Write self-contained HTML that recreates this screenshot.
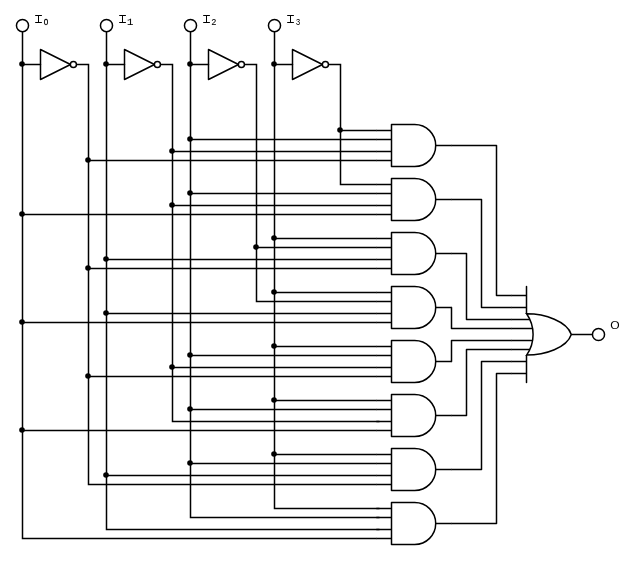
<!DOCTYPE html>
<html lang="en">
<head>
<meta charset="utf-8">
<title>Logic circuit</title>
<style>
html,body{margin:0;padding:0;background:#fff;}
body{width:634px;height:561px;overflow:hidden;}
svg{display:block;}
</style>
</head>
<body>
<svg width="634" height="561" viewBox="0 0 634 561" style="will-change:transform">
<rect width="634" height="561" fill="#fff"/>
<g fill="none" stroke="#000" stroke-width="1.5" stroke-linejoin="round" stroke-linecap="round">
<circle cx="22.5" cy="25.6" r="6.05"/>
<path d="M22.5 31.6V538.5H376.7" stroke-linejoin="miter" stroke-linecap="butt"/>
<path d="M22.5 64.5H40.5"/>
<path d="M40.5 49.5V79.5L70.5 64.5Z"/>
<circle cx="73.4" cy="64.45" r="3.05" fill="#fff"/>
<path d="M76.5 64.5H88.5V484.5H376.7" stroke-linejoin="miter" stroke-linecap="butt"/>
<circle cx="106.5" cy="25.6" r="6.05"/>
<path d="M106.5 31.6V529.5H379.5" stroke-linejoin="miter" stroke-linecap="butt"/>
<path d="M106.5 64.5H124.5"/>
<path d="M124.5 49.5V79.5L154.5 64.5Z"/>
<circle cx="157.4" cy="64.45" r="3.05" fill="#fff"/>
<path d="M160.5 64.5H172.5V421.5H379.5" stroke-linejoin="miter" stroke-linecap="butt"/>
<circle cx="190.5" cy="25.6" r="6.05"/>
<path d="M190.5 31.6V517.5H379.5" stroke-linejoin="miter" stroke-linecap="butt"/>
<path d="M190.5 64.5H208.5"/>
<path d="M208.5 49.5V79.5L238.5 64.5Z"/>
<circle cx="241.4" cy="64.45" r="3.05" fill="#fff"/>
<path d="M244.5 64.5H256.5V301.5H376.7" stroke-linejoin="miter" stroke-linecap="butt"/>
<circle cx="274.5" cy="25.6" r="6.05"/>
<path d="M274.5 31.6V508.5H379.5" stroke-linejoin="miter" stroke-linecap="butt"/>
<path d="M274.5 64.5H292.5"/>
<path d="M292.5 49.5V79.5L322.5 64.5Z"/>
<circle cx="325.4" cy="64.45" r="3.05" fill="#fff"/>
<path d="M328.5 64.5H340.5V184.5H376.7" stroke-linejoin="miter" stroke-linecap="butt"/>
<path d="M376.3 130.5H391.5" stroke-linecap="butt"/>
<path d="M340.5 130.5H376.7" stroke-linecap="butt"/>
<path d="M376.3 139.5H391.5" stroke-linecap="butt"/>
<path d="M190.5 139.5H376.7" stroke-linecap="butt"/>
<path d="M376.3 151.5H391.5" stroke-linecap="butt"/>
<path d="M172.5 151.5H376.7" stroke-linecap="butt"/>
<path d="M376.3 160.5H391.5" stroke-linecap="butt"/>
<path d="M88.5 160.5H376.7" stroke-linecap="butt"/>
<path d="M376.3 184.5H391.5" stroke-linecap="butt"/>
<path d="M376.3 193.5H391.5" stroke-linecap="butt"/>
<path d="M190.5 193.5H376.7" stroke-linecap="butt"/>
<path d="M376.3 205.5H391.5" stroke-linecap="butt"/>
<path d="M172.5 205.5H376.7" stroke-linecap="butt"/>
<path d="M376.3 214.5H391.5" stroke-linecap="butt"/>
<path d="M22.5 214.5H376.7" stroke-linecap="butt"/>
<path d="M376.3 238.5H391.5" stroke-linecap="butt"/>
<path d="M274.5 238.5H376.7" stroke-linecap="butt"/>
<path d="M376.3 247.5H391.5" stroke-linecap="butt"/>
<path d="M256.5 247.5H376.7" stroke-linecap="butt"/>
<path d="M376.3 259.5H391.5" stroke-linecap="butt"/>
<path d="M106.5 259.5H376.7" stroke-linecap="butt"/>
<path d="M376.3 268.5H391.5" stroke-linecap="butt"/>
<path d="M88.5 268.5H376.7" stroke-linecap="butt"/>
<path d="M376.3 292.5H391.5" stroke-linecap="butt"/>
<path d="M274.5 292.5H376.7" stroke-linecap="butt"/>
<path d="M376.3 301.5H391.5" stroke-linecap="butt"/>
<path d="M376.3 313.5H391.5" stroke-linecap="butt"/>
<path d="M106.5 313.5H376.7" stroke-linecap="butt"/>
<path d="M376.3 322.5H391.5" stroke-linecap="butt"/>
<path d="M22.5 322.5H376.7" stroke-linecap="butt"/>
<path d="M376.3 346.5H391.5" stroke-linecap="butt"/>
<path d="M274.5 346.5H376.7" stroke-linecap="butt"/>
<path d="M376.3 355.5H391.5" stroke-linecap="butt"/>
<path d="M190.5 355.5H376.7" stroke-linecap="butt"/>
<path d="M376.3 367.5H391.5" stroke-linecap="butt"/>
<path d="M172.5 367.5H376.7" stroke-linecap="butt"/>
<path d="M376.3 376.5H391.5" stroke-linecap="butt"/>
<path d="M88.5 376.5H376.7" stroke-linecap="butt"/>
<path d="M376.3 400.5H391.5" stroke-linecap="butt"/>
<path d="M274.5 400.5H376.7" stroke-linecap="butt"/>
<path d="M376.3 409.5H391.5" stroke-linecap="butt"/>
<path d="M190.5 409.5H376.7" stroke-linecap="butt"/>
<path d="M376.3 421.5H391.5" stroke-linecap="butt"/>
<path d="M376.3 430.5H391.5" stroke-linecap="butt"/>
<path d="M22.5 430.5H376.7" stroke-linecap="butt"/>
<path d="M376.3 454.5H391.5" stroke-linecap="butt"/>
<path d="M274.5 454.5H376.7" stroke-linecap="butt"/>
<path d="M376.3 463.5H391.5" stroke-linecap="butt"/>
<path d="M190.5 463.5H376.7" stroke-linecap="butt"/>
<path d="M376.3 475.5H391.5" stroke-linecap="butt"/>
<path d="M106.5 475.5H376.7" stroke-linecap="butt"/>
<path d="M376.3 484.5H391.5" stroke-linecap="butt"/>
<path d="M376.3 508.5H391.5" stroke-linecap="butt"/>
<path d="M376.3 517.5H391.5" stroke-linecap="butt"/>
<path d="M376.3 529.5H391.5" stroke-linecap="butt"/>
<path d="M376.3 538.5H391.5" stroke-linecap="butt"/>
<path d="M414.7 124.5H391.5V166.5H414.7A21 21 0 0 0 414.7 124.5Z" fill="#fff"/>
<path d="M414.7 178.5H391.5V220.5H414.7A21 21 0 0 0 414.7 178.5Z" fill="#fff"/>
<path d="M414.7 232.5H391.5V274.5H414.7A21 21 0 0 0 414.7 232.5Z" fill="#fff"/>
<path d="M414.7 286.5H391.5V328.5H414.7A21 21 0 0 0 414.7 286.5Z" fill="#fff"/>
<path d="M414.7 340.5H391.5V382.5H414.7A21 21 0 0 0 414.7 340.5Z" fill="#fff"/>
<path d="M414.7 394.5H391.5V436.5H414.7A21 21 0 0 0 414.7 394.5Z" fill="#fff"/>
<path d="M414.7 448.5H391.5V490.5H414.7A21 21 0 0 0 414.7 448.5Z" fill="#fff"/>
<path d="M414.7 502.5H391.5V544.5H414.7A21 21 0 0 0 414.7 502.5Z" fill="#fff"/>
<path d="M436 145.5H451.7" stroke-linecap="butt"/>
<path d="M451.3 145.5H496.5V295.5H511.7" stroke-linecap="butt"/>
<path d="M511.3 295.5H526.5" stroke-linecap="butt"/>
<path d="M436 199.5H451.7" stroke-linecap="butt"/>
<path d="M451.3 199.5H481.5V307.5H511.7" stroke-linecap="butt"/>
<path d="M511.3 307.5H526.5" stroke-linecap="butt"/>
<path d="M436 253.5H451.7" stroke-linecap="butt"/>
<path d="M451.3 253.5H466.5V319.5H511.7" stroke-linecap="butt"/>
<path d="M511.3 319.5H532.5" stroke-linecap="butt"/>
<path d="M436 307.5H451.7" stroke-linecap="butt"/>
<path d="M451.3 307.5H451.5V328.5H511.7" stroke-linecap="butt"/>
<path d="M511.3 328.5H532.5" stroke-linecap="butt"/>
<path d="M436 361.5H451.7" stroke-linecap="butt"/>
<path d="M451.3 361.5H451.5V340.5H511.7" stroke-linecap="butt"/>
<path d="M511.3 340.5H532.5" stroke-linecap="butt"/>
<path d="M436 415.5H451.7" stroke-linecap="butt"/>
<path d="M451.3 415.5H466.5V349.5H511.7" stroke-linecap="butt"/>
<path d="M511.3 349.5H532.5" stroke-linecap="butt"/>
<path d="M436 469.5H451.7" stroke-linecap="butt"/>
<path d="M451.3 469.5H481.5V361.5H511.7" stroke-linecap="butt"/>
<path d="M511.3 361.5H526.5" stroke-linecap="butt"/>
<path d="M436 523.5H451.7" stroke-linecap="butt"/>
<path d="M451.3 523.5H496.5V373.5H511.7" stroke-linecap="butt"/>
<path d="M511.3 373.5H526.5" stroke-linecap="butt"/>
<path d="M526.5 286.5V313.5M526.5 355.4V382.5"/>
<path d="M526.6 313.8C545.3 313.8 566.9 321.3 571.3 334.45C566.9 347.6 545.3 355.1 526.6 355.1A36.1 36.1 0 0 0 526.6 313.8Z" fill="#fff" stroke-linejoin="miter"/>
<path d="M571.5 334.5H592"/>
<circle cx="598.5" cy="334.5" r="6.05"/>
</g>
<g fill="#000">
<circle cx="22.0" cy="64.0" r="2.8"/>
<circle cx="106.0" cy="64.0" r="2.8"/>
<circle cx="190.0" cy="64.0" r="2.8"/>
<circle cx="274.0" cy="64.0" r="2.8"/>
<circle cx="340.0" cy="130.0" r="2.8"/>
<circle cx="190.0" cy="139.0" r="2.8"/>
<circle cx="172.0" cy="151.0" r="2.8"/>
<circle cx="88.0" cy="160.0" r="2.8"/>
<circle cx="190.0" cy="193.0" r="2.8"/>
<circle cx="172.0" cy="205.0" r="2.8"/>
<circle cx="22.0" cy="214.0" r="2.8"/>
<circle cx="274.0" cy="238.0" r="2.8"/>
<circle cx="256.0" cy="247.0" r="2.8"/>
<circle cx="106.0" cy="259.0" r="2.8"/>
<circle cx="88.0" cy="268.0" r="2.8"/>
<circle cx="274.0" cy="292.0" r="2.8"/>
<circle cx="106.0" cy="313.0" r="2.8"/>
<circle cx="22.0" cy="322.0" r="2.8"/>
<circle cx="274.0" cy="346.0" r="2.8"/>
<circle cx="190.0" cy="355.0" r="2.8"/>
<circle cx="172.0" cy="367.0" r="2.8"/>
<circle cx="88.0" cy="376.0" r="2.8"/>
<circle cx="274.0" cy="400.0" r="2.8"/>
<circle cx="190.0" cy="409.0" r="2.8"/>
<circle cx="22.0" cy="430.0" r="2.8"/>
<circle cx="274.0" cy="454.0" r="2.8"/>
<circle cx="190.0" cy="463.0" r="2.8"/>
<circle cx="106.0" cy="475.0" r="2.8"/>
</g>
<clipPath id="ci"><path d="M-1 -1h9v2h-9zM-1 7h9v2h-9zM3 0h1v8h-1z"/></clipPath>
<g font-family="'Liberation Mono', monospace" fill="#000" text-rendering="geometricPrecision">
<g transform="translate(35.0 15)" clip-path="url(#ci)"><text transform="translate(-1.5 8) scale(1.4 1)" font-size="12">I</text></g>
<text transform="translate(43.75 25) scale(0.9 1)" font-family="'Liberation Sans', sans-serif" font-size="9" text-rendering="auto" stroke="#000" stroke-width="0.3">0</text>
<g transform="translate(119.0 15)" clip-path="url(#ci)"><text transform="translate(-1.5 8) scale(1.4 1)" font-size="12">I</text></g>
<text transform="translate(127.0 25) scale(1.1 1)" font-family="'Liberation Mono', monospace" font-size="9.5" text-rendering="geometricPrecision" stroke="#000" stroke-width="0.15">1</text>
<g transform="translate(203.0 15)" clip-path="url(#ci)"><text transform="translate(-1.5 8) scale(1.4 1)" font-size="12">I</text></g>
<text transform="translate(211.5 25) scale(1.0 1)" font-family="'Liberation Sans', sans-serif" font-size="8.5" text-rendering="geometricPrecision" stroke="#000" stroke-width="0.15">2</text>
<g transform="translate(287.0 15)" clip-path="url(#ci)"><text transform="translate(-1.5 8) scale(1.4 1)" font-size="12">I</text></g>
<text transform="translate(295.75 25) scale(0.9 1)" font-family="'Liberation Mono', monospace" font-size="8.5" text-rendering="auto">3</text>
<text transform="translate(610.25 329) scale(1.05 1)" font-family="'Liberation Sans', sans-serif" font-size="11.5">O</text>
</g>
</svg>
</body>
</html>
